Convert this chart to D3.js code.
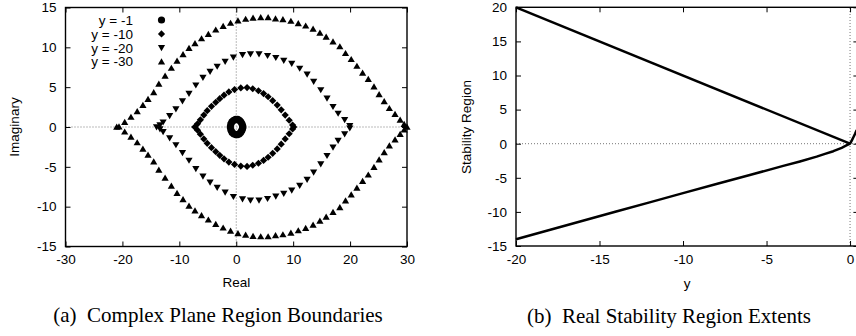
<!DOCTYPE html>
<html><head><meta charset="utf-8">
<script src="https://cdn.jsdelivr.net/npm/d3@7/dist/d3.min.js"></script>
<style>
body{margin:0;background:#fff;}
svg{display:block;}
.tick text{font-family:"Liberation Sans",Arial,sans-serif;font-size:13.5px;fill:#000;}
</style></head>
<body>
<svg id="c" width="856" height="336"></svg>
<script>
// ---------- Panel (a) data: boundary points [real, imaginary] ----------
const seriesNames = ["y = -1", "y = -10", "y = -20", "y = -30"];
const ym1 = [[-1.05,0],[-0.95,0.35],[-0.75,0.65],[-0.45,0.85],[-0.1,0.95],[0.25,0.95],[0.55,0.85],[0.8,0.65],[1.0,0.4],[1.12,0.15],[1.15,0],
  [1.12,-0.15],[1.0,-0.4],[0.8,-0.65],[0.55,-0.85],[0.25,-0.95],[-0.1,-0.95],[-0.45,-0.85],[-0.75,-0.65],[-0.95,-0.35]];
const ym10 = [[-7.3,0],[-6.8,0.4],[-6.3,0.9],[-5.7,1.5],[-5.1,2.05],[-4.35,2.6],[-3.6,3.1],[-2.9,3.55],[-2.15,4.0],[-1.3,4.4],[-0.3,4.7],[0.8,4.9],[1.9,4.95],[2.9,4.8],[3.9,4.55],[4.8,4.2],[5.6,3.8],[6.4,3.3],[7.2,2.75],[7.9,2.15],[8.6,1.5],[9.3,0.85],[9.9,0.25],[10.1,0],
  [-6.8,-0.4],[-6.3,-0.9],[-5.7,-1.5],[-5.1,-2.05],[-4.35,-2.6],[-3.6,-3.1],[-2.9,-3.55],[-2.15,-4.0],[-1.3,-4.4],[-0.3,-4.7],[0.8,-4.9],[1.9,-4.95],[2.9,-4.8],[3.9,-4.55],[4.8,-4.2],[5.6,-3.8],[6.4,-3.3],[7.2,-2.75],[7.9,-2.15],[8.6,-1.5],[9.3,-0.85],[9.9,-0.25]];
const ym20 = [[-14.0,0],[-13.4,0.25],[-12.85,0.6],[-11.7,1.4],[-10.6,2.25],[-9.45,3.25],[-8.3,4.2],[-7.1,5.25],[-5.85,6.2],[-4.6,6.95],[-3.35,7.6],[-1.95,8.2],[-0.5,8.75],[1.1,9.05],[2.5,9.15],[4.0,9.15],[5.5,8.95],[6.95,8.7],[8.35,8.35],[9.75,7.95],[11.15,7.35],[12.45,6.6],[13.6,5.7],[14.85,4.65],[15.95,3.6],[17.0,2.55],[17.9,1.7],[19.05,0.9],[19.95,0.15],
  [-13.4,-0.25],[-12.85,-0.6],[-11.7,-1.4],[-10.6,-2.25],[-9.45,-3.25],[-8.3,-4.2],[-7.1,-5.25],[-5.85,-6.2],[-4.6,-6.95],[-3.35,-7.6],[-1.95,-8.2],[-0.5,-8.75],[1.1,-9.05],[2.5,-9.2],[4.0,-9.2],[5.5,-9.0],[6.95,-8.7],[8.35,-8.35],[9.75,-7.95],[11.15,-7.35],[12.45,-6.6],[13.6,-5.7],[14.85,-4.65],[15.95,-3.6],[17.0,-2.55],[17.9,-1.7],[19.05,-0.9],[19.95,-0.15]];
const ym30 = [[-21.0,0],[-20.6,0.05],[-19.6,0.6],[-18.5,1.25],[-17.4,1.95],[-16.4,2.75],[-15.5,3.5],[-14.5,4.35],[-13.6,5.4],[-12.5,6.4],[-11.4,7.4],[-10.4,8.3],[-9.35,9.1],[-8.3,9.9],[-7.25,10.5],[-6.1,11.1],[-4.9,11.65],[-3.6,12.2],[-2.3,12.65],[-1.0,13.05],[0.3,13.35],[1.65,13.55],[2.95,13.7],[4.3,13.75],[5.6,13.75],[6.9,13.6],[8.2,13.5],[9.6,13.3],[10.9,13.0],[12.2,12.7],[13.5,12.3],[14.7,11.8],[15.8,11.3],[17.0,10.7],[18.2,10.1],[19.2,9.25],[20.2,8.5],[21.2,7.65],[22.2,6.8],[23.2,6.0],[24.2,5.05],[25.1,4.1],[26.0,3.2],[26.9,2.35],[27.9,1.6],[28.8,0.9],[29.5,0.35],[30.0,0.0],
  [-19.6,-0.6],[-18.5,-1.25],[-17.4,-1.95],[-16.4,-2.75],[-15.5,-3.5],[-14.5,-4.35],[-13.6,-5.4],[-12.5,-6.4],[-11.4,-7.4],[-10.4,-8.3],[-9.35,-9.1],[-8.3,-9.9],[-7.25,-10.5],[-6.1,-11.1],[-4.9,-11.65],[-3.6,-12.2],[-2.3,-12.65],[-1.0,-13.05],[0.3,-13.35],[1.65,-13.55],[2.95,-13.7],[4.3,-13.75],[5.6,-13.75],[6.9,-13.6],[8.2,-13.5],[9.6,-13.3],[10.9,-13.0],[12.2,-12.7],[13.5,-12.3],[14.7,-11.8],[15.8,-11.3],[17.0,-10.7],[18.2,-10.1],[19.2,-9.25],[20.2,-8.5],[21.2,-7.65],[22.2,-6.8],[23.2,-6.0],[24.2,-5.05],[25.1,-4.1],[26.0,-3.2],[26.9,-2.35],[27.9,-1.6],[28.8,-0.9],[29.5,-0.35]];
const aXTicks = [-30,-20,-10,0,10,20,30];
const aYTicks = [-15,-10,-5,0,5,10,15];

// ---------- Panel (b) data ----------
const upperY = [-20, 0];
const upperV = [20, 0];
const lowerY = [-20,-18,-16,-14,-12,-10,-8,-6,-4,-3,-2,-1.5,-1,-0.5,-0.25,0,0.1,0.2,0.3,0.4];
const lowerV = [-14,-12.65,-11.3,-9.95,-8.6,-7.25,-5.9,-4.6,-3.25,-2.6,-1.9,-1.5,-1.1,-0.6,-0.3,0,0.45,0.95,1.45,2.0];
const bXTicks = [-20,-15,-10,-5,0];
const bYTicks = [-15,-10,-5,0,5,10,15,20];

const svg = d3.select("#c");
svg.append("rect").attr("width",856).attr("height",336).attr("fill","#fff");
const sans = '"Liberation Sans",Arial,sans-serif';
const serif = '"Liberation Serif","Times New Roman",serif';

function frame(g, x, y, xt, yt){
  g.append("line").attr("x1",x.range()[0]).attr("x2",x.range()[1]).attr("y1",y(0)).attr("y2",y(0))
    .attr("stroke","#777").attr("stroke-width",1).attr("stroke-dasharray","1,2");
  g.append("line").attr("x1",x(0)).attr("x2",x(0)).attr("y1",y.range()[0]).attr("y2",y.range()[1])
    .attr("stroke","#777").attr("stroke-width",1).attr("stroke-dasharray","1,2");
  const ax = [
    g.append("g").attr("transform",`translate(0,${y.range()[0]})`).call(d3.axisBottom(x).tickValues(xt).tickSize(-5).tickPadding(8).tickFormat(d3.format("d"))),
    g.append("g").attr("transform",`translate(0,${y.range()[1]})`).call(d3.axisTop(x).tickValues(xt).tickSize(-5).tickFormat("")),
    g.append("g").attr("transform",`translate(${x.range()[0]},0)`).call(d3.axisLeft(y).tickValues(yt).tickSize(-5).tickPadding(9).tickFormat(d3.format("d"))),
    g.append("g").attr("transform",`translate(${x.range()[1]},0)`).call(d3.axisRight(y).tickValues(yt).tickSize(-5).tickFormat(""))
  ];
  ax.forEach(a=>{a.select(".domain").remove(); a.selectAll(".tick line").attr("stroke","#000").attr("stroke-width",1);});
  ax.forEach(a=>a.selectAll(".tick text").text(function(){return this.textContent.replace("\u2212","-");}));
  g.append("rect").attr("x",x.range()[0]).attr("y",y.range()[1])
    .attr("width",x.range()[1]-x.range()[0]).attr("height",y.range()[0]-y.range()[1])
    .attr("fill","none").attr("stroke","#000").attr("stroke-width",1.4);
}

// ---------- Panel (a) ----------
const xa = d3.scaleLinear().domain([-30,30]).range([65.5,407]);
const ya = d3.scaleLinear().domain([-15,15]).range([246.5,7.5]);
const ga = svg.append("g");
frame(ga, xa, ya, aXTicks, aYTicks);

const shapes = {
  circle: "M3.6,0A3.6,3.6 0 1,1 -3.6,0A3.6,3.6 0 1,1 3.6,0Z",
  diamond: "M0,-3.6L3.6,0L0,3.6L-3.6,0Z",
  down: "M-3.6,-2.8L3.6,-2.8L0,3.4Z",
  up: "M-3.6,2.8L3.6,2.8L0,-3.4Z"
};
const seriesData = [ym1, ym10, ym20, ym30];
const seriesShape = ["circle","diamond","down","up"];
seriesData.forEach((arr,i)=>{
  ga.append("g").selectAll("path").data(arr).join("path")
    .attr("d",shapes[seriesShape[i]])
    .attr("transform",d=>`translate(${xa(d[0])},${ya(d[1])})`)
    .attr("fill","#000");
});
const leg = ga.append("g");
seriesNames.forEach((n,i)=>{
  const yy = 20 + i*13.9;
  leg.append("text").attr("x",133).attr("y",yy).attr("dy","0.35em").attr("text-anchor","end")
    .attr("font-family",sans).attr("font-size","13.5px").text(n);
  leg.append("path").attr("d",shapes[seriesShape[i]]).attr("transform",`translate(161.5,${yy})`).attr("fill","#000");
});
ga.append("text").attr("x",236.3).attr("y",282).attr("dy","0.35em").attr("text-anchor","middle")
  .attr("font-family",sans).attr("font-size","13.5px").text("Real");
ga.append("text").attr("transform","translate(14,127) rotate(-90)").attr("dy","0.35em").attr("text-anchor","middle")
  .attr("font-family",sans).attr("font-size","13.5px").text("Imaginary");
ga.append("text").attr("x",218).attr("y",315).attr("dy","0.35em").attr("text-anchor","middle")
  .attr("font-family",serif).attr("font-size","21px").attr("xml:space","preserve").text("(a)  Complex Plane Region Boundaries");

// ---------- Panel (b) ----------
const xb = d3.scaleLinear().domain([-20,0.5]).range([516,858.4]);
const yb = d3.scaleLinear().domain([-15,20]).range([246,7.3]);
const gb = svg.append("g");
frame(gb, xb, yb, bXTicks, bYTicks);
const line = d3.line().x(d=>xb(d[0])).y(d=>yb(d[1]));
gb.append("path").attr("d",line(d3.zip(upperY,upperV))).attr("fill","none").attr("stroke","#000").attr("stroke-width",2.5);
gb.append("path").attr("d",line(d3.zip(lowerY,lowerV))).attr("fill","none").attr("stroke","#000").attr("stroke-width",2.5).attr("stroke-linejoin","round");
gb.append("text").attr("x",687).attr("y",283).attr("dy","0.35em").attr("text-anchor","middle")
  .attr("font-family",sans).attr("font-size","13.5px").text("y");
gb.append("text").attr("transform","translate(466,127) rotate(-90)").attr("dy","0.35em").attr("text-anchor","middle")
  .attr("font-family",sans).attr("font-size","13.5px").text("Stability Region");
gb.append("text").attr("x",669).attr("y",316).attr("dy","0.35em").attr("text-anchor","middle")
  .attr("font-family",serif).attr("font-size","21px").attr("xml:space","preserve").text("(b)  Real Stability Region Extents");
</script>
</body></html>
